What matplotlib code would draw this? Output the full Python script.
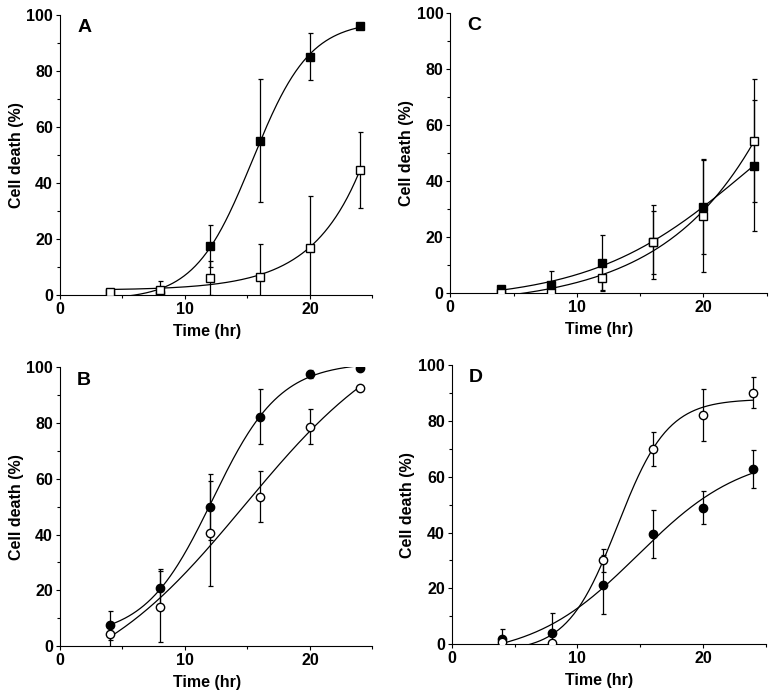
import numpy as np
import matplotlib.pyplot as plt
from matplotlib.ticker import MultipleLocator

plt.rcParams['font.family'] = ['Liberation Sans', 'DejaVu Sans']
plt.rcParams['font.weight'] = 'bold'

# time points (hr)
t = [4, 8, 12, 16, 20, 24]

# panel A : squares
a_fill = [0.5, 0, 17.3, 55, 85, 96]
a_fill_err = [1, 0, 7.5, 22, 8.3, 0]
a_open = [1, 1.8, 6, 6.5, 16.7, 44.5]
a_open_err = [1, 3.3, 6, 11.5, 18.7, 13.5]

# panel C : squares
c_fill = [1.5, 2.7, 10.7, 18, 30.7, 45.4]
c_fill_err = [0.5, 5.2, 9.8, 11.3, 17, 23.5]
c_open = [0, 0, 5.1, 18, 27.4, 54.3]
c_open_err = [0, 0, 4.5, 13.2, 20, 22]

# panel B : circles
b_fill = [7.4, 21, 50, 82.3, 97.6, 99.9]
b_fill_err = [5.3, 6.6, 11.8, 9.8, 1.5, 0]
b_open = [4.2, 14.1, 40.4, 53.6, 78.7, 92.7]
b_open_err = [4.5, 12.8, 19, 9.2, 6.3, 0]

# panel D : circles
d_fill = [1.9, 3.9, 21.2, 39.4, 48.9, 62.8]
d_fill_err = [3.6, 7.2, 10.6, 8.6, 6, 6.8]
d_open = [0.7, 0.4, 30, 69.8, 82.2, 90.2]
d_open_err = [0, 0, 4, 6.1, 9.3, 5.5]


def logistic_fit(x, y):
    # crude least squares fit of a/(1+exp(-(x-c)/b)) + d
    x = np.asarray(x, float)
    y = np.asarray(y, float)
    best = None
    for c in np.linspace(4, 45, 206):
        for b in np.linspace(0.8, 12, 113):
            s = 1 / (1 + np.exp(-(x - c) / b))
            A = np.column_stack([s, np.ones_like(s)])
            coef, *_ = np.linalg.lstsq(A, y, rcond=None)
            sse = np.sum((A @ coef - y) ** 2)
            if best is None or sse < best[0]:
                best = (sse, c, b, coef)
    _, c, b, coef = best
    xs = np.linspace(x.min(), x.max(), 200)
    return xs, coef[0] / (1 + np.exp(-(xs - c) / b)) + coef[1]


fig = plt.figure(figsize=(7.79, 6.97), dpi=100)

panels = [
    ('A', [0.077, 0.577, 0.401, 0.402], 's', a_fill, a_fill_err, a_open, a_open_err),
    ('C', [0.578, 0.580, 0.406, 0.402], 's', c_fill, c_fill_err, c_open, c_open_err),
    ('B', [0.077, 0.073, 0.401, 0.400], 'o', b_fill, b_fill_err, b_open, b_open_err),
    ('D', [0.580, 0.076, 0.403, 0.400], 'o', d_fill, d_fill_err, d_open, d_open_err),
]

for letter, pos, mk, yf, ef, yo, eo in panels:
    ax = fig.add_axes(pos)
    for y, e, face in [(yf, ef, 'black'), (yo, eo, 'white')]:
        xs, ys = logistic_fit(t, y)
        ax.plot(xs, ys, color='black', lw=0.9, zorder=2)
        ax.errorbar(t, y, yerr=e, fmt='none', ecolor='black', elinewidth=0.9,
                    capsize=1.8, capthick=0.9, zorder=3)
        ax.plot(t, y, mk, ms=6, mfc=face, mec='black',
                mew=1.0, ls='none', zorder=4)
    ax.set_xlim(0, 25)
    ax.set_ylim(0, 100)
    ax.spines['top'].set_visible(False)
    ax.spines['right'].set_visible(False)
    ax.spines['left'].set_linewidth(0.8)
    ax.spines['bottom'].set_linewidth(0.8)
    ax.xaxis.set_major_locator(MultipleLocator(10))
    ax.xaxis.set_minor_locator(MultipleLocator(5))
    ax.yaxis.set_major_locator(MultipleLocator(20))
    ax.yaxis.set_minor_locator(MultipleLocator(10))
    ax.tick_params(which='major', length=3, width=0.8, labelsize=11.5, pad=2)
    ax.tick_params(which='minor', length=2, width=0.8)
    for lab in ax.get_xticklabels() + ax.get_yticklabels():
        lab.set_fontweight('bold')
    ax.set_xlabel('Time (hr)', fontsize=11.5, fontweight='bold')
    ax.xaxis.set_label_coords(0.47, -0.105)
    ax.set_ylabel('Cell death (%)', fontsize=11.5, fontweight='bold', labelpad=2)
    ax.text(0.055, 0.985, letter, transform=ax.transAxes, fontsize=14,
            fontweight='bold', va='top', ha='left')

fig.savefig('out.png', dpi=100)
